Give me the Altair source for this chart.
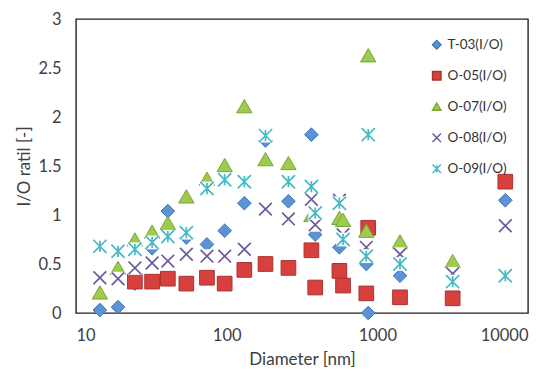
import altair as alt
import pandas as pd

# ---- data ----
diameters = [14.4, 19, 24.6, 32, 40.7, 54, 74, 97, 131, 181, 257,
             365, 387, 560, 592, 845, 870, 1414, 3162, 7070]

t03 = [0.03, 0.06, 0.30, 0.66, 1.04, 0.77, 0.70, 0.84, 1.12, 1.76, 1.14,
       1.82, 0.80, 0.67, None, 0.50, 0.00, 0.38, None, 1.15]
o05 = [None, None, 0.32, 0.32, 0.35, 0.30, 0.36, 0.30, 0.44, 0.50, 0.46,
       0.64, 0.26, 0.43, 0.28, 0.20, 0.87, 0.16, 0.15, 1.34]
o07 = [0.21, 0.46, 0.75, 0.83, 0.92, 1.19, 1.37, 1.51, 2.11, 1.57, 1.53,
       1.00, None, 0.97, 0.95, 0.84, 2.63, 0.73, 0.53, None]
o08 = [0.36, 0.35, 0.46, 0.51, 0.53, 0.60, 0.58, 0.58, 0.65, 1.06, 0.96,
       1.16, 0.90, 1.15, 0.80, 0.67, None, 0.60, 0.40, 0.89]
o09 = [0.68, 0.63, 0.65, 0.72, 0.78, 0.82, 1.27, 1.36, 1.34, 1.81, 1.34,
       1.29, 1.02, 1.12, 0.75, 0.58, 1.82, 0.50, 0.32, 0.38]

series_names = ["T-03(I/O)", "O-05(I/O)", "O-07(I/O)", "O-08(I/O)", "O-09(I/O)"]
series_values = [t03, o05, o07, o08, o09]

x_ticks = [10, 100, 1000, 10000]
y_ticks = [0, 0.5, 1, 1.5, 2, 2.5, 3]

rows = []
for name, vals in zip(series_names, series_values):
    for d, v in zip(diameters, vals):
        if v is not None:
            rows.append({"series": name, "diameter": d, "ratio": v})
df = pd.DataFrame(rows)

# ---- styling ----
X_PATH = "M-1,-1L1,1M-1,1L1,-1"
STAR_PATH = "M-1,-1L1,1M-1,1L1,-1M0,-0.85L0,0.85"
shapes = ["diamond", "square", "triangle-up", X_PATH, STAR_PATH]
fills = ["#5a94d6", "#d8403d", "#9dcb4c", "transparent", "transparent"]
strokes = ["#3f74b4", "#a93232", "#7ba43a", "#6b5a9c", "#45b9c4"]
sizes = [185, 215, 235, 160, 175]

x_enc = alt.X(
    "diameter:Q",
    scale=alt.Scale(type="log", domain=[10, 10000]),
    axis=alt.Axis(values=x_ticks, format="d", title="Diameter [nm]",
                  labelPadding=14, titlePadding=8),
)
y_enc = alt.Y(
    "ratio:Q",
    scale=alt.Scale(domain=[0, 3]),
    axis=alt.Axis(values=y_ticks, format="~g", title="I/O ratil [-]",
                  labelPadding=15, titlePadding=4),
)

legend = alt.Legend(
    title=None, orient="none", legendX=354, legendY=19,
    labelFontSize=13.5, labelColor="#333333", symbolSize=70,
    symbolStrokeWidth=1.5, rowPadding=16, labelOffset=4,
)
shape_enc = alt.Shape("series:N", scale=alt.Scale(domain=series_names, range=shapes), legend=legend)
fill_enc = alt.Fill("series:N", scale=alt.Scale(domain=series_names, range=fills), legend=legend)
stroke_enc = alt.Stroke("series:N", scale=alt.Scale(domain=series_names, range=strokes), legend=legend)

base = alt.Chart(df)
layers = []
for i, name in enumerate(series_names):
    sub = base.transform_filter(alt.datum.series == name)
    if i >= 3:
        # white square backing behind X / star markers (as in the original)
        layers.append(
            sub.mark_point(shape="square", filled=True, color="white",
                           size=190, opacity=1, strokeWidth=0)
            .encode(x=x_enc, y=y_enc)
        )
    layers.append(
        sub.mark_point(filled=True, opacity=1, size=sizes[i],
                       strokeWidth=1.0 if i < 3 else 1.7)
        .encode(x=x_enc, y=y_enc, shape=shape_enc, fill=fill_enc, stroke=stroke_enc)
    )

chart = (
    alt.layer(*layers)
    .properties(
        width=452, height=294,
        autosize=alt.AutoSizeParams(type="none"),
        padding={"left": 68, "top": 11, "right": 16, "bottom": 60},
    )
    .configure(font="Lato")
    .configure_view(stroke="#222222", strokeWidth=1.4)
    .configure_axis(
        domain=False, ticks=False, grid=False,
        labelFontSize=16.5, labelColor="#404040",
        titleFontSize=17, titleColor="#404040", titleFontWeight="normal",
    )
)

chart.save("out.html", embed_options={"renderer": "svg", "actions": False})
